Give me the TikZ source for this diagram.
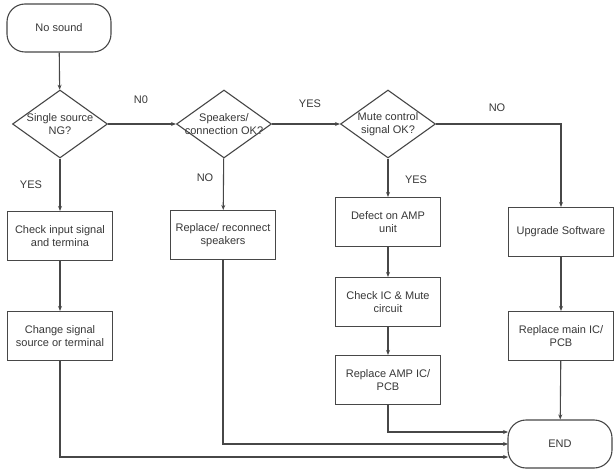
\documentclass[tikz,border=0pt]{standalone}
\usepackage{fontspec}
\setmainfont{Liberation Sans}
\usetikzlibrary{shapes.geometric,arrows.meta}
\begin{document}
\begin{tikzpicture}[x=1pt,y=-1pt,
  ln/.style={draw=black!72, line width=1.1pt},
  arr/.style={ln, -{Stealth[length=5pt,width=4pt]}},
  box/.style={ln, fill=white, minimum width=105pt, minimum height=49pt, inner sep=0pt},
  term/.style={ln, fill=white, rounded corners=18pt, minimum width=104pt, minimum height=48pt, inner sep=0pt},
  dia/.style={ln, diamond, fill=white, minimum width=95pt, minimum height=68pt, inner sep=0pt},
  txt/.style={font=\fontsize{11}{12.5}\selectfont, text=black!78, align=center},
  lab/.style={font=\fontsize{11}{13}\selectfont, text=black!78}]
\useasboundingbox (0,0) rectangle (615,470);
% nodes
\node[term] (start) at (59,28) {};
\node[txt] (tstart) at (start) {No sound};
\node[dia] (d1) at (60,124) {};
\node[txt] (td1) at (d1) {Single source\\NG?};
\node[dia] (d2) at (224,124) {};
\node[txt] (td2) at (d2) {Speakers/\\connection OK?};
\node[dia] (d3) at (388,124) {};
\node[txt] (td3) at (d3) {Mute control\\signal OK?};
\node[box] (chk) at (60,236) {};
\node[txt] (tchk) at (chk) {Check input signal\\and termina};
\node[box] (chg) at (60,336) {};
\node[txt] (tchg) at (chg) {Change signal\\source or terminal};
\node[box] (rep) at (223,235) {};
\node[txt] (trep) at (rep) {Replace/ reconnect\\speakers};
\node[box] (def) at (388,222) {};
\node[txt] (tdef) at (def) {Defect on AMP\\unit};
\node[box] (cic) at (388,302) {};
\node[txt] (tcic) at (cic) {Check IC \& Mute\\circuit};
\node[box] (ramp) at (388,380) {};
\node[txt] (tramp) at (ramp) {Replace AMP IC/\\PCB};
\node[box] (up) at (561,232) {};
\node[txt] (tup) at (up) {Upgrade Software};
\node[box] (rmain) at (561,336) {};
\node[txt] (trmain) at (rmain) {Replace main IC/\\PCB};
\node[term] (end) at (560,444) {};
\node[txt] (tend) at (end) {END};
% labels
\node[lab] (l1) at (141,100) {N0};
\node[lab] (l2) at (310,104) {YES};
\node[lab] (l3) at (497,108) {NO};
\node[lab] (l4) at (31,185) {YES};
\node[lab] (l5) at (205,178) {NO};
\node[lab] (l6) at (416,180) {YES};
% connectors
\coordinate (e1) at (508,432);
\coordinate (e2) at (508,444);
\coordinate (e3) at (508,457);
\draw[arr] (start) -- (d1);
\draw[arr] (d1) -- (d2);
\draw[arr] (d2) -- (d3);
\draw[arr] (d3.east) -| (up.north);
\draw[arr] (d1) -- (chk);
\draw[arr] (chk) -- (chg);
\draw[arr] (d2) -- (rep);
\draw[arr] (d3) -- (def);
\draw[arr] (def) -- (cic);
\draw[arr] (cic) -- (ramp);
\draw[arr] (up) -- (rmain);
\draw[arr] (rmain) -- (end);
\draw[arr] (ramp.south) |- (e1);
\draw[arr] (rep.south) |- (e2);
\draw[arr] (chg.south) |- (e3);
\end{tikzpicture}
\end{document}
